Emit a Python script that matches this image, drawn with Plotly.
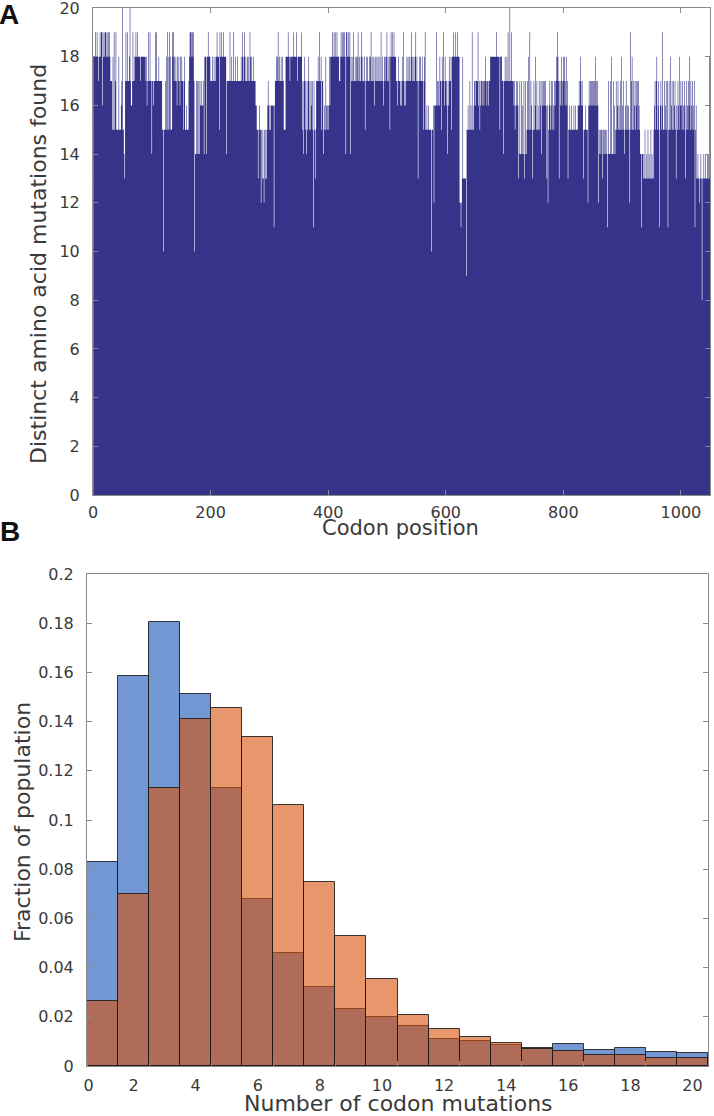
import plotly.graph_objects as go

# ---------------- Panel A data: distinct amino-acid mutations per codon ----------------
# one character per codon, value = index in LEVELS ("A"=10 ... "K"=20)
LEVELS = "0123456789ABCDEFGHIJK"
panel_a_codes = [
    "IIIJIIJIHII", "JIJJGJIJIJJIJIJIJI", "HHH", "FIFJFHJFFFFIFFFGHKFFE",
    "DHJHHJHHIKHGGHJHHI", "IJIIJIIIIHIIIIIIIIHI", "GHJHHJHHEHHGHHJHJ", "HHHIHHHHHFF",
    "A", "FFHFIFJFIJFIFF", "JIJHIHIHGIHIHGIHIHHFHI", "FFGFFF", "HIJJIJJIJH", "A",
    "EEHEHEHEH", "GGHGGH", "EIIIEIIJIII", "HHHIHHIHH", "IIJIIIFJIIJIIJIIIIE",
    "HHHHHJHHIHHJHHIHHHIHHHH",
    "HIHJIHIJHIHHIIHHJIHIHHIHHHGG", "FFDFGFFCF", "DFDCFDFD", "FGHGFGFGG", "GGGBGH",
    "HIHIJHIHHIHIHH", "FFF", "IIIIJIIHIIIIIJIIIIJIHIIIIIIJ", "FHEHIHFEHFHIFHFHGHFBHF",
    "DFH", "HHIHJHHIFHHE", "FGFIGFGFGIG", "IIIJIIJIJIIJIIIHHIJIJIJIJIEJJIIJIJEIH",
    "HIJHHIHIHIJHIHHIJHIHHIF", "HIHIHHIHIJHHIHIGHIHIHIHHIHJHIHGHIIHIJHIHIF",
    "IJIJIIJIIIH", "HGHIHHGHGIHJHGH", "GHIHIHIHHIJHIHIHIJHIHD", "HIHIHHIHFHIJ",
    "FFGFFGFFFFAFFG", "CGGGJGHG", "HGIHHFIHJHGIHHGEHGIHHIF", "IIJIIIJIIJIII", "CCBCDIDDDD",
    "D", "9", "FFGFFHFGFJFF", "GHHGHHHJGHFGHHGHHGHHIHGHHGHH", "IIIIIIIIIIJIIIIIFIII",
    "HHEHHIHHIHJHHKHHJHHH", "GHFGHGHG", "DEHEEHEGEHDEHE", "FHFIFJFHGFDFHFGIFHFGFHF",
    "GHEHGHGHGHGDGC", "FGHFGHFHGFHG", "HIHJIHDH", "GHIGHIHIGHIGHD", "FFGFFGFFFGFFGFFFG",
    "GHGIHGHGD", "FFFGFFFC", "GHGHGHGHHGHGIHGHGC", "FEFEFFDFEFEFEF", "BEHEEHEIEEHEGE",
    "FH", "FGHFGFHFIFGHFEFGHFGFGFCJ", "FHIFHFGHFHGHFHGF", "EEBEE", "DEDFDDEDFDEDDFDEDD",
    "FGHFHIFGHFBGHFGJF", "FHFGHFHBFHFIFGHFHFGHFD", "GFHGFIGHGFHGFHGDFHGFHGIFHGFHGFHBFG",
    "DDEDDCDED", "8", "DDEDDEDDEDEDI",
]
distinct_mutations = [LEVELS.index(ch) for ch in "".join(panel_a_codes)]
codon_position = list(range(1, len(distinct_mutations) + 1))

# ---------------- Panel B data: histogram of codon mutations ----------------
mutation_bins = list(range(1, 21))
fraction_blue = [0.083, 0.1587, 0.1805, 0.1514, 0.113, 0.068, 0.046, 0.0322, 0.023, 0.0198,
                 0.0163, 0.0108, 0.0102, 0.0085, 0.0072, 0.0091, 0.0065, 0.0073, 0.0056, 0.0052]
fraction_orange = [0.0263, 0.070, 0.113, 0.1409, 0.1454, 0.1336, 0.106, 0.075, 0.053, 0.0354,
                   0.0207, 0.0149, 0.0117, 0.0092, 0.0070, 0.0060, 0.0046, 0.0043, 0.0034, 0.0031]

a_xticks = [0, 200, 400, 600, 800, 1000]
a_yticks = list(range(0, 21, 2))
b_xtickvals = [0.55] + list(range(2, 21, 2))
b_xticktext = ["0"] + [str(v) for v in range(2, 21, 2)]
b_ytickvals = [i * 0.02 for i in range(11)]
b_yticktext = ["0", "0.02", "0.04", "0.06", "0.08", "0.1", "0.12", "0.14", "0.16", "0.18", "0.2"]

W, H = 714, 1116
FONT = "DejaVu Sans"
TXT = "#3a3a3a"
AXC = "#8a8a8a"

# bar edges for the dense codon bar chart (each bar spans position +/- 0.5)
edge_x = [p - 0.5 for p in codon_position] + [codon_position[-1] + 0.5]
edge_y = distinct_mutations + [distinct_mutations[-1]]

fig = go.Figure()
fig.add_trace(go.Scatter(x=edge_x, y=edge_y, mode="lines", line=dict(shape="hv", width=0, color="#36338A"),
                         fill="tozeroy", fillcolor="#36338A",
                         xaxis="x", yaxis="y", showlegend=False, hoverinfo="skip"))
fig.add_trace(go.Bar(x=mutation_bins, y=fraction_blue, width=1,
                     marker=dict(color="rgba(20,82,180,0.6)", line=dict(color="rgba(25,25,25,0.85)", width=1)),
                     xaxis="x2", yaxis="y2", showlegend=False))
fig.add_trace(go.Bar(x=mutation_bins, y=fraction_orange, width=1,
                     marker=dict(color="rgba(217,80,8,0.6)", line=dict(color="rgba(25,25,25,0.85)", width=1)),
                     xaxis="x2", yaxis="y2", showlegend=False))

common = dict(showline=True, linecolor=AXC, linewidth=1, mirror="ticks", ticks="inside",
              ticklen=5, tickcolor=AXC, showgrid=False, zeroline=False, automargin=False,
              ticklabeloverflow="allow", layer="above traces",
              tickfont=dict(family=FONT, size=16, color=TXT))

fig.update_layout(
    template="none",
    width=W, height=H, margin=dict(l=0, r=0, t=0, b=0, autoexpand=False),
    paper_bgcolor="white", plot_bgcolor="white",
    barmode="overlay", bargap=0,
    xaxis=dict(domain=[93 / W, 710 / W], range=[0, 1049.5], tickvals=a_xticks,
               ticklabelstandoff=3, anchor="y", **common),
    yaxis=dict(domain=[1 - 495 / H, 1 - 8 / H], range=[0, 20], tickvals=a_yticks,
               ticklabelstandoff=9, anchor="x", **common),
    xaxis2=dict(domain=[87 / W, 708 / W], range=[0.5, 20.5], tickvals=b_xtickvals,
                ticktext=b_xticktext, anchor="y2",
                **{**common, "ticks": "", "mirror": True},
                minor=dict(ticks="inside", tick0=0.5, dtick=2, ticklen=5, tickcolor=AXC),
                ticklabelstandoff=5),
    yaxis2=dict(domain=[1 - 1066 / H, 1 - 574 / H], range=[0, 0.2], tickvals=b_ytickvals,
                ticktext=b_yticktext, ticklabelstandoff=9, anchor="x2", **common),
)

ann = [
    dict(text="<b>A</b>", x=9 / W, y=1 - 15 / H, font=dict(family="Liberation Sans", size=28, color="#111")),
    dict(text="<b>B</b>", x=10 / W, y=1 - 531 / H, font=dict(family="Liberation Sans", size=28, color="#111")),
    dict(text="Distinct amino acid mutations found", x=38 / W, y=1 - 264 / H, textangle=-90,
         font=dict(family=FONT, size=22, color=TXT)),
    dict(text="Codon position", x=400 / W, y=1 - 528 / H, font=dict(family=FONT, size=21, color=TXT)),
    dict(text="Fraction of population", x=22 / W, y=1 - 822 / H, textangle=-90,
         font=dict(family=FONT, size=22, color=TXT)),
    dict(text="Number of codon mutations", x=398 / W, y=1 - 1103 / H,
         font=dict(family=FONT, size=22, color=TXT)),
]
for a in ann:
    fig.add_annotation(xref="paper", yref="paper", showarrow=False,
                       xanchor="center", yanchor="middle", **a)

fig.write_html("out.html", config={"displayModeBar": False},
               post_script="document.body.style.margin='0px';document.body.style.padding='0px';")
